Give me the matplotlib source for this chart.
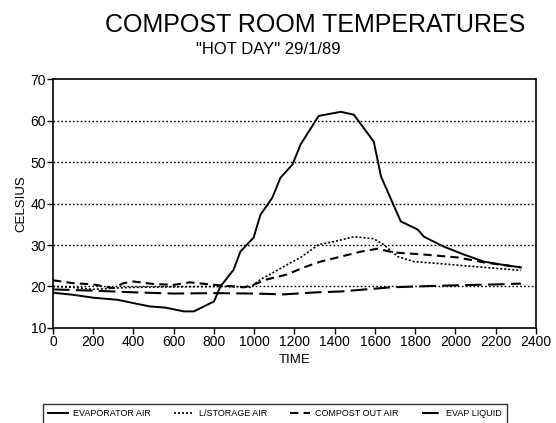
import matplotlib
matplotlib.use("Agg")
import matplotlib.pyplot as plt

plt.rcParams['font.family'] = ['Liberation Sans', 'DejaVu Sans']

# evaporator air (solid)
t_evap_air = [0, 100, 200, 320, 480, 560, 650, 700, 800, 832, 897, 931, 997, 1031, 1090,
              1130, 1190, 1230, 1320, 1430, 1495, 1594, 1630, 1728, 1813, 1843, 1942,
              2042, 2141, 2226, 2325]
v_evap_air = [18.5, 18.0, 17.3, 16.8, 15.2, 14.9, 14.0, 14.0, 16.4, 20.0, 24.0, 28.4, 31.8,
              37.3, 41.4, 46.2, 49.4, 54.2, 61.1, 62.1, 61.4, 54.9, 46.5, 35.7, 33.7, 32.0,
              29.6, 27.7, 26.0, 25.3, 24.6]

# L/storage air (dotted)
t_storage = [0, 100, 200, 300, 400, 600, 800, 900, 980, 1031, 1096, 1146, 1230, 1320, 1395,
             1495, 1594, 1643, 1713, 1793, 1927, 2093, 2325]
v_storage = [20.0, 19.8, 19.3, 19.6, 19.8, 19.9, 20.0, 20.0, 19.8, 21.7, 23.4, 24.8, 27.0,
             30.1, 30.8, 32.0, 31.5, 30.1, 27.2, 26.0, 25.5, 24.8, 23.9]

# compost out air (short dashes)
t_compost = [0, 100, 200, 300, 350, 400, 500, 600, 680, 800, 900, 950, 1000, 1063, 1163,
             1246, 1330, 1430, 1530, 1612, 1694, 1843, 2010, 2142, 2325]
v_compost = [21.5, 20.8, 20.5, 19.6, 20.8, 21.2, 20.6, 20.4, 21.0, 20.4, 20.0, 19.8, 20.5,
             21.7, 22.9, 24.6, 26.0, 27.2, 28.4, 29.1, 28.2, 27.7, 27.0, 25.8, 24.6]

# evap liquid (long dashes)
t_liquid = [0, 200, 400, 600, 800, 1000, 1146, 1313, 1430, 1678, 1927, 2200, 2325]
v_liquid = [19.3, 19.0, 18.6, 18.3, 18.4, 18.3, 18.1, 18.6, 18.8, 19.8, 20.2, 20.5, 20.7]

x_ticks = list(range(0, 2401, 200))
y_ticks = list(range(10, 71, 10))

fig = plt.figure(figsize=(5.56, 4.23), dpi=100)
ax = fig.add_axes([0.0953, 0.2246, 0.8687, 0.5886])

for y in [20, 30, 40, 50, 60]:
    ax.axhline(y, color='black', lw=1.0, ls=(0, (1.2, 1.6)), zorder=1)

ax.plot(t_evap_air, v_evap_air, color='black', lw=1.4, label='EVAPORATOR AIR')
ax.plot(t_storage, v_storage, color='black', lw=1.2, ls=(0, (1.2, 1.2)), label='L/STORAGE AIR')
ax.plot(t_compost, v_compost, color='black', lw=1.5, ls=(0, (4, 2.5)), label='COMPOST OUT AIR')
ax.plot(t_liquid, v_liquid, color='black', lw=1.5, ls=(0, (8, 3)), label='EVAP LIQUID')

ax.set_xlim(0, 2400)
ax.set_ylim(10, 70)
ax.set_xticks(x_ticks)
ax.set_yticks(y_ticks)
ax.tick_params(direction='out', length=4, width=1, labelsize=10, pad=1)
for s in ax.spines.values():
    s.set_linewidth(1.2)

ax.set_xlabel('TIME', fontsize=9.5, labelpad=4)
ax.set_ylabel('CELSIUS', fontsize=9.5, labelpad=2)

fig.text(0.567, 0.942, 'COMPOST ROOM TEMPERATURES', ha='center', va='center', fontsize=18)
fig.text(0.482, 0.882, '"HOT DAY" 29/1/89', ha='center', va='center', fontsize=12)

leg = fig.legend(loc='upper left', bbox_to_anchor=(0.0773, -0.05, 0.835, 0.095), mode='expand',
                 ncol=4, fontsize=6.5, frameon=True, fancybox=False, handlelength=2.2,
                 handletextpad=0.5, borderpad=0.6, borderaxespad=0)
leg.get_frame().set_edgecolor('black')
leg.get_frame().set_linewidth(1.0)

fig.savefig('out.png', dpi=100)
